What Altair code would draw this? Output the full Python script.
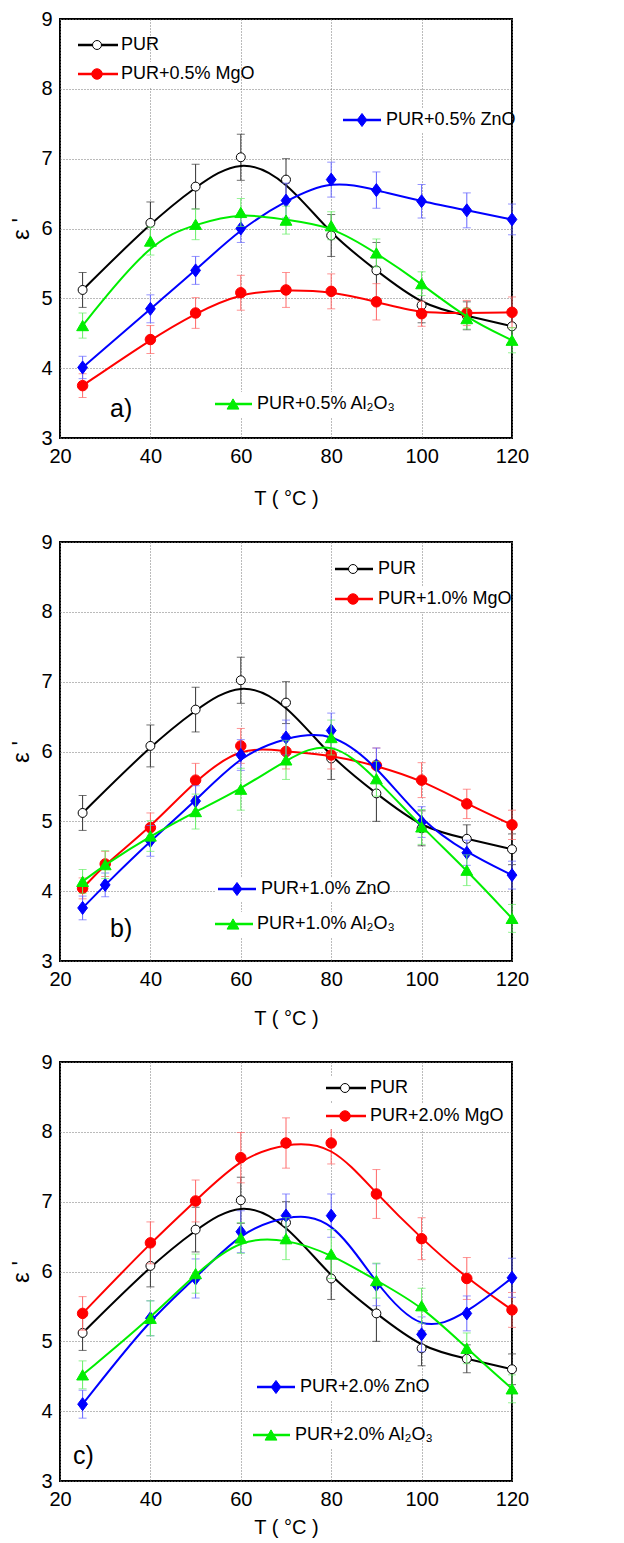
import altair as alt
import pandas as pd

# ---------------- data ----------------
T = [25, 40, 50, 60, 70, 80, 90, 100, 110, 120]
T_B = [25, 30, 40, 50, 60, 70, 80, 90, 100, 110, 120]

PUR = [5.12, 6.08, 6.60, 7.02, 6.70, 5.90, 5.40, 4.90, 4.75, 4.60]
PUR_ERR = [0.25, 0.30, 0.32, 0.33, 0.30, 0.30, 0.40, 0.25, 0.20, 0.22]

MGO_05 = [3.75, 4.41, 4.79, 5.08, 5.12, 5.10, 4.95, 4.78, 4.79, 4.80]
MGO_05_ERR = [0.17, 0.20, 0.22, 0.25, 0.25, 0.25, 0.26, 0.18, 0.18, 0.22]
ZNO_05 = [4.01, 4.85, 5.40, 6.00, 6.40, 6.70, 6.55, 6.39, 6.26, 6.13]
ZNO_05_ERR = [0.16, 0.20, 0.20, 0.20, 0.25, 0.25, 0.26, 0.24, 0.25, 0.22]
AL_05 = [4.61, 5.82, 6.06, 6.23, 6.12, 6.04, 5.65, 5.21, 4.71, 4.40]
AL_05_ERR = [0.18, 0.20, 0.22, 0.20, 0.20, 0.20, 0.20, 0.17, 0.15, 0.18]

MGO_10 = [4.04, 4.39, 4.91, 5.59, 6.08, 6.00, 5.95, 5.80, 5.59, 5.25, 4.95]
MGO_10_ERR = [0.15, 0.18, 0.21, 0.24, 0.25, 0.25, 0.20, 0.25, 0.25, 0.21, 0.21]
ZNO_10 = [3.76, 4.09, 4.72, 5.29, 5.95, 6.20, 6.30, 5.80, 4.99, 4.55, 4.23]
ZNO_10_ERR = [0.17, 0.17, 0.22, 0.22, 0.22, 0.25, 0.25, 0.25, 0.22, 0.18, 0.20]
AL_10 = [4.14, 4.38, 4.79, 5.14, 5.46, 5.88, 6.20, 5.61, 4.92, 4.30, 3.61]
AL_10_ERR = [0.17, 0.20, 0.22, 0.25, 0.30, 0.28, 0.25, 0.25, 0.25, 0.22, 0.20]

MGO_20 = [5.40, 6.41, 7.01, 7.63, 7.84, 7.84, 7.11, 6.47, 5.90, 5.45]
MGO_20_ERR = [0.24, 0.30, 0.30, 0.36, 0.36, 0.30, 0.35, 0.30, 0.30, 0.25]
ZNO_20 = [4.10, 5.33, 5.90, 6.57, 6.80, 6.80, 5.81, 5.10, 5.40, 5.91]
ZNO_20_ERR = [0.20, 0.25, 0.28, 0.30, 0.31, 0.31, 0.30, 0.25, 0.25, 0.28]
AL_20 = [4.52, 5.33, 5.97, 6.48, 6.47, 6.25, 5.87, 5.51, 4.90, 4.32]
AL_20_ERR = [0.20, 0.25, 0.28, 0.22, 0.30, 0.35, 0.25, 0.25, 0.22, 0.20]

X_TICKS = [20, 40, 60, 80, 100, 120]
Y_TICKS = [3, 4, 5, 6, 7, 8, 9]

# ---------------- styles ----------------
FONT = "Liberation Sans Narrow, Arial Narrow, Liberation Sans, Arial, sans-serif"
W, H = 452, 419
DIAMOND = "M0,-1L0.75,0L0,1L-0.75,0Z"

STYLE = {
    "PUR": dict(color="black", err="#333333", shape="circle", fill="white", size=80, lw=2),
    "MgO": dict(color="#ff0000", err="#ff6666", shape="circle", fill="#ff0000", size=110, lw=2),
    "ZnO": dict(color="#0000ff", err="#6666ff", shape=DIAMOND, fill="#0000ff", size=170, lw=2),
    "Al": dict(color="#00ee00", err="#66ee66", shape="triangle-up", fill="#00ee00", size=140, lw=2),
}

xs = alt.Scale(domain=[20, 120], nice=False, zero=False, padding=0)
ys = alt.Scale(domain=[3, 9], nice=False, zero=False, padding=0)


def series_layers(temps, vals, errs, key):
    st = STYLE[key]
    df = pd.DataFrame({"T": temps, "v": vals, "e": errs})
    df["lo"] = df["v"] - df["e"]
    df["hi"] = df["v"] + df["e"]
    base = alt.Chart(df)
    x = alt.X("T:Q", scale=xs)
    rule = base.mark_rule(color=st["err"], strokeWidth=1).encode(
        x=x, y=alt.Y("lo:Q", scale=ys), y2="hi:Q")
    cap_lo = base.mark_tick(color=st["err"], thickness=1, size=8, orient="horizontal").encode(
        x=x, y=alt.Y("lo:Q", scale=ys))
    cap_hi = base.mark_tick(color=st["err"], thickness=1, size=8, orient="horizontal").encode(
        x=x, y=alt.Y("hi:Q", scale=ys))
    line = base.mark_line(interpolate="basis", color=st["color"], strokeWidth=st["lw"]).encode(
        x=x, y=alt.Y("v:Q", scale=ys))
    pts = base.mark_point(shape=st["shape"], filled=True, fill=st["fill"], stroke=st["color"],
                          strokeWidth=1, size=st["size"], opacity=1).encode(
        x=x, y=alt.Y("v:Q", scale=ys))
    return [rule, cap_lo, cap_hi, line, pts]


def legend_layers(key, label, x1, x2, xm, xt, y):
    st = STYLE[key]
    d = pd.DataFrame({"label": [label]})
    base = alt.Chart(d)
    box = base.mark_rect(fill="white").encode(
        x=alt.value(x1 - 3), x2=alt.value(xt + 8.0 * len(label)),
        y=alt.value(y - 12), y2=alt.value(y + 13))
    ln = base.mark_rule(color=st["color"], strokeWidth=2.5).encode(
        x=alt.value(x1), x2=alt.value(x2), y=alt.value(y))
    pt = base.mark_point(shape=st["shape"], filled=True, fill=st["fill"], stroke=st["color"],
                         strokeWidth=1, size=st["size"], opacity=1).encode(
        x=alt.value(xm), y=alt.value(y))
    tx = base.mark_text(align="left", baseline="middle", font=FONT, fontSize=18,
                        color="black").encode(
        x=alt.value(xt), y=alt.value(y), text="label:N")
    return [box, ln, pt, tx]


def tag_layer(tag, x, y):
    return alt.Chart(pd.DataFrame({"t": [tag]})).mark_text(
        align="left", baseline="middle", font=FONT, fontSize=25, color="black").encode(
        x=alt.value(x), y=alt.value(y), text="t:N")


def panel(series, legends, tag, tagpos, title_pad):
    layers = []
    # axes / grid carrier
    layers.append(alt.Chart(pd.DataFrame({"T": [20], "v": [3]})).mark_point(opacity=0).encode(
        x=alt.X("T:Q", scale=xs, title="T ( °C )",
                axis=alt.Axis(values=X_TICKS, format="d", labelFlush=False,
                              titlePadding=title_pad)),
        y=alt.Y("v:Q", scale=ys, title="ε '",
                axis=alt.Axis(values=Y_TICKS, format="d", labelFlush=False))))
    for s in series:
        layers += series_layers(*s)
    for lg in legends:
        layers += legend_layers(*lg)
    layers.append(tag_layer(tag, *tagpos))
    return alt.layer(*layers).properties(width=W, height=H)


pa = panel(
    [(T, PUR, PUR_ERR, "PUR"), (T, MGO_05, MGO_05_ERR, "MgO"),
     (T, ZNO_05, ZNO_05_ERR, "ZnO"), (T, AL_05, AL_05_ERR, "Al")],
    [("PUR", "PUR", 18, 58, 37, 61, 26),
     ("MgO", "PUR+0.5% MgO", 18, 58, 37, 61, 55),
     ("ZnO", "PUR+0.5% ZnO", 283, 321, 302, 326, 101),
     ("Al", "PUR+0.5% Al₂O₃", 155, 192, 173, 197, 385)],
    "a)", (50, 390), 22)

pb = panel(
    [(T, PUR, PUR_ERR, "PUR"), (T_B, MGO_10, MGO_10_ERR, "MgO"),
     (T_B, ZNO_10, ZNO_10_ERR, "ZnO"), (T_B, AL_10, AL_10_ERR, "Al")],
    [("PUR", "PUR", 275, 313, 293, 318, 27),
     ("MgO", "PUR+1.0% MgO", 275, 313, 293, 318, 57),
     ("ZnO", "PUR+1.0% ZnO", 158, 196, 177, 201, 347),
     ("Al", "PUR+1.0% Al₂O₃", 155, 193, 173, 197, 382)],
    "b)", (50, 387), 19)

pc = panel(
    [(T, PUR, PUR_ERR, "PUR"), (T, MGO_20, MGO_20_ERR, "MgO"),
     (T, ZNO_20, ZNO_20_ERR, "ZnO"), (T, AL_20, AL_20_ERR, "Al")],
    [("PUR", "PUR", 266, 306, 285, 310, 26),
     ("MgO", "PUR+2.0% MgO", 266, 306, 285, 310, 54),
     ("ZnO", "PUR+2.0% ZnO", 197, 235, 216, 240, 325),
     ("Al", "PUR+2.0% Al₂O₃", 193, 230, 211, 235, 373)],
    "c)", (13, 394), 8)

chart = alt.vconcat(pa, pb, pc, spacing=22).properties(
    padding={"left": 0, "top": 0, "right": 5, "bottom": 0}
).configure_view(
    stroke="black", strokeWidth=2
).configure_axis(
    grid=True, gridColor="#777777", gridDash=[1, 2], gridWidth=1,
    domain=False, ticks=False,
    labelFont=FONT, labelFontSize=20, labelColor="black", labelPadding=8,
    titleFont=FONT, titleFontSize=20, titleFontWeight="normal", titleColor="black",
).configure_axisY(
    titleFontSize=24, titlePadding=7, labelPadding=8
)

chart.save("out.html", embed_options={"renderer": "svg", "actions": False})
